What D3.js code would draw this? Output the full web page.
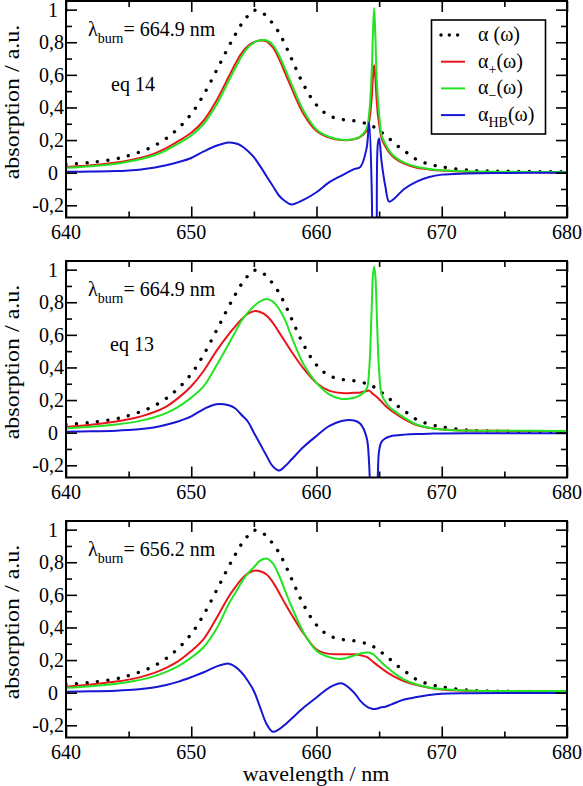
<!DOCTYPE html>
<html><head><meta charset="utf-8">
<script src="https://cdn.jsdelivr.net/npm/d3@7"></script>
<style>
body{margin:0;background:#fff}
svg{display:block}
svg text{font-family:"Liberation Serif","Tinos","Times New Roman",serif;fill:#000}
</style></head>
<body><svg id="c" width="583" height="786"></svg>
<script>
// ---------- data ----------
const wavelength = [640,642,644,645,646,647,648,649,650,651,652,653,653.5,654,654.5,655,655.5,656,656.5,657,657.5,658,659,660,661,662,663,663.5,664,664.2,664.4,664.5,664.6,664.7,664.8,664.9,665,665.2,665.5,665.8,666.2,667,668,669,670,672,675,680];

const alphaTotal = [0.05,0.063,0.085,0.105,0.13,0.163,0.21,0.275,0.36,0.48,0.625,0.775,0.845,0.91,0.96,0.995,0.99,0.96,0.915,0.86,0.785,0.70,0.535,0.415,0.35,0.327,0.318,0.312,0.30,0.295,0.29,0.285,0.28,0.276,0.271,0.265,0.26,0.247,0.228,0.21,0.18,0.135,0.08,0.052,0.036,0.016,0.009,0.005];

// panel 1: burn 664.9 nm, eq 14
const plus14  = [0.035,0.045,0.062,0.075,0.092,0.115,0.15,0.195,0.245,0.32,0.44,0.59,0.665,0.73,0.775,0.80,0.81,0.805,0.77,0.70,0.61,0.52,0.355,0.255,0.215,0.20,0.205,0.22,0.255,0.31,0.45,0.58,0.66,0.58,0.45,0.355,0.30,0.21,0.16,0.125,0.092,0.055,0.03,0.02,0.013,0.006,0.003,0.002];
const minus14 = [0.03,0.04,0.055,0.068,0.084,0.105,0.137,0.18,0.228,0.30,0.415,0.565,0.64,0.71,0.765,0.798,0.812,0.812,0.785,0.72,0.635,0.545,0.375,0.265,0.22,0.202,0.207,0.222,0.27,0.36,0.60,0.84,1.01,0.84,0.58,0.45,0.36,0.23,0.175,0.135,0.10,0.062,0.036,0.023,0.015,0.008,0.005,0.004];
const hb14    = [0.005,0.007,0.01,0.014,0.02,0.03,0.045,0.065,0.09,0.13,0.165,0.185,0.18,0.165,0.135,0.095,0.04,-0.02,-0.08,-0.14,-0.175,-0.195,-0.165,-0.12,-0.06,-0.018,0.022,0.035,0.15,0.31,-0.07,-0.8,-1.2,-0.8,-0.4,0.18,0.21,0.065,-0.085,-0.178,-0.16,-0.10,-0.055,-0.027,-0.012,-0.005,-0.002,0];

// panel 2: burn 664.9 nm, eq 13
const plus13  = [0.035,0.048,0.068,0.082,0.10,0.125,0.16,0.215,0.285,0.38,0.50,0.605,0.65,0.695,0.728,0.745,0.74,0.718,0.675,0.617,0.558,0.498,0.39,0.305,0.258,0.243,0.245,0.247,0.255,0.258,0.245,0.238,0.232,0.226,0.22,0.213,0.205,0.19,0.165,0.145,0.122,0.083,0.046,0.03,0.02,0.013,0.011,0.01];
const minus13 = [0.027,0.036,0.05,0.06,0.074,0.093,0.12,0.16,0.215,0.285,0.41,0.545,0.615,0.685,0.735,0.775,0.805,0.82,0.805,0.76,0.69,0.59,0.415,0.305,0.235,0.207,0.214,0.23,0.268,0.38,0.75,0.96,1.02,0.96,0.76,0.53,0.38,0.235,0.19,0.16,0.135,0.092,0.05,0.03,0.02,0.013,0.012,0.01];
const hb13    = [0.006,0.008,0.012,0.016,0.022,0.032,0.048,0.07,0.10,0.145,0.175,0.168,0.15,0.11,0.07,0.0,-0.07,-0.14,-0.205,-0.232,-0.205,-0.165,-0.085,-0.02,0.04,0.072,0.075,0.055,-0.03,-0.19,-0.7,-1,-1.1,-1,-0.8,-0.25,-0.11,-0.055,-0.035,-0.025,-0.018,-0.012,-0.008,-0.006,-0.005,-0.004,-0.003,-0.003];

// panel 3: burn 656.2 nm
const plus656  = [0.037,0.05,0.068,0.08,0.097,0.12,0.152,0.195,0.255,0.33,0.455,0.59,0.645,0.695,0.73,0.748,0.745,0.726,0.68,0.615,0.545,0.48,0.36,0.265,0.238,0.236,0.235,0.23,0.22,0.21,0.197,0.19,0.184,0.178,0.172,0.166,0.16,0.148,0.132,0.117,0.098,0.07,0.047,0.03,0.02,0.012,0.01,0.01];
const minus656 = [0.03,0.04,0.055,0.066,0.08,0.1,0.128,0.165,0.215,0.28,0.39,0.545,0.61,0.675,0.73,0.77,0.81,0.823,0.795,0.72,0.625,0.53,0.365,0.257,0.218,0.207,0.228,0.24,0.247,0.246,0.24,0.236,0.231,0.224,0.216,0.208,0.2,0.185,0.163,0.145,0.12,0.08,0.05,0.032,0.022,0.013,0.01,0.01];
const hb656    = [0.006,0.008,0.012,0.016,0.022,0.032,0.047,0.068,0.095,0.125,0.16,0.178,0.16,0.125,0.075,0.01,-0.09,-0.19,-0.24,-0.225,-0.195,-0.16,-0.09,-0.03,0.03,0.058,0.0,-0.05,-0.085,-0.093,-0.098,-0.1,-0.1,-0.1,-0.099,-0.097,-0.094,-0.09,-0.086,-0.078,-0.065,-0.042,-0.027,-0.014,-0.006,-0.003,-0.002,-0.002];

const xMajor = [640,650,660,670,680];
const xMinor = [645,655,665,675];
const yMajor = [-0.2,0,0.2,0.4,0.6,0.8,1];
const yMinor = [-0.1,0.1,0.3,0.5,0.7,0.9];
const yTickLabels = ["-0,2","0","0,2","0,4","0,6","0,8","1"];
const burnLabels = ["664.9","664.9","656.2"];
const eqLabels = ["eq 14","eq 13",null];

// ---------- layout ----------
const FONT = "'Liberation Serif', Tinos, 'Times New Roman', serif";
const svg = d3.select("#c");
const left = 66, right = 567, ph = 216.5;
const panelTops = [1, 261, 521];
const col = {plus:"#e8161c", minus:"#22e422", hb:"#1616d4"};
const x = d3.scaleLinear().domain([640,680]).range([left,right]);

const panels = [
  {plus:plus14, minus:minus14, hb:hb14},
  {plus:plus13, minus:minus13, hb:hb13},
  {plus:plus656, minus:minus656, hb:hb656}
];

function txt(sel){ return sel.append("text").style("font-family",FONT); }

panels.forEach((p,i)=>{
  const top = panelTops[i];
  const y = d3.scaleLinear().domain([-0.275,1.053]).range([top+ph, top]);
  const g = svg.append("g");
  const cid = "clip"+i;
  svg.append("clipPath").attr("id",cid).append("rect")
     .attr("x",left).attr("y",top).attr("width",right-left).attr("height",ph);
  const gen = d3.line().x((d,j)=>x(wavelength[j])).y(d=>y(d)).curve(d3.curveCatmullRom.alpha(0.5));
  const cg = g.append("g").attr("clip-path",`url(#${cid})`);
  cg.append("path").attr("d",gen(alphaTotal)).attr("fill","none").attr("stroke","#000")
    .attr("stroke-width",3.4).attr("stroke-linecap","round").attr("stroke-dasharray","0.01 10.5");
  cg.append("path").attr("d",gen(p.plus)).attr("fill","none").attr("stroke",col.plus).attr("stroke-width",2);
  cg.append("path").attr("d",gen(p.minus)).attr("fill","none").attr("stroke",col.minus).attr("stroke-width",2);
  cg.append("path").attr("d",gen(p.hb)).attr("fill","none").attr("stroke",col.hb).attr("stroke-width",2);

  // ticks (inward, all sides)
  const ax = (a, t)=>{ const s=g.append("g").attr("transform",t).call(a); s.select(".domain").remove(); s.selectAll("line").attr("stroke","#000").attr("stroke-width",1.6); s.selectAll("text").remove(); };
  ax(d3.axisBottom(x).tickValues(xMajor).tickSize(-11), `translate(0,${top+ph})`);
  ax(d3.axisBottom(x).tickValues(xMinor).tickSize(-6), `translate(0,${top+ph})`);
  ax(d3.axisTop(x).tickValues(xMajor).tickSize(-11), `translate(0,${top})`);
  ax(d3.axisTop(x).tickValues(xMinor).tickSize(-6), `translate(0,${top})`);
  ax(d3.axisLeft(y).tickValues(yMajor).tickSize(-11), `translate(${left},0)`);
  ax(d3.axisLeft(y).tickValues(yMinor).tickSize(-6), `translate(${left},0)`);
  ax(d3.axisRight(y).tickValues(yMajor).tickSize(-11), `translate(${right},0)`);
  ax(d3.axisRight(y).tickValues(yMinor).tickSize(-6), `translate(${right},0)`);

  g.append("rect").attr("x",left).attr("y",top).attr("width",right-left).attr("height",ph)
   .attr("fill","none").attr("stroke","#000").attr("stroke-width",2);

  // tick labels
  g.selectAll(".xl").data(xMajor).enter().append("text").style("font-family",FONT)
   .attr("x",d=>x(d)).attr("y",top+ph+21).attr("text-anchor","middle")
   .style("font-size","20px").text(d=>d);
  g.selectAll(".yl").data(yMajor).enter().append("text").style("font-family",FONT)
   .attr("x",(d,j)=> yTickLabels[j].includes(",") ? 64 : 58)
   .attr("y",d=>y(d)+7).attr("text-anchor","end")
   .style("font-size","20px").text((d,j)=>yTickLabels[j]);

  // y axis title
  txt(g).attr("transform",`translate(18.5,${top+101}) rotate(-90) scale(1,0.88)`)
   .attr("text-anchor","middle").style("font-size","24px").text("absorption / a.u.");

  // annotations
  const t = txt(g).attr("x",88).attr("y",top+34.5).style("font-size","20px");
  t.append("tspan").text("λ");
  t.append("tspan").attr("dy",7).style("font-size","14px").text("burn");
  t.append("tspan").attr("dy",-7).text("= "+burnLabels[i]+" nm");
  if(eqLabels[i]){
    txt(g).attr("x",i===0?111:110).attr("y",top+89.5).style("font-size","20px").text(eqLabels[i]);
  }

  if(i===0){
    const lg = g.append("g");
    lg.append("rect").attr("x",431.5).attr("y",20).attr("width",114).attr("height",114)
      .attr("fill","#fff").attr("stroke","#000").attr("stroke-width",1.6);
    const entries = [
      {main:"α", sub:null, rest:" (ω)", dash:true, color:"#000"},
      {main:"α", sub:"+", rest:"(ω)", color:col.plus},
      {main:"α", sub:"−", rest:"(ω)", color:col.minus},
      {main:"α", sub:"HB", rest:"(ω)", color:col.hb}
    ];
    entries.forEach((e,k)=>{
      const yy = 35 + k*26.7;
      const ln = lg.append("line").attr("x1",441).attr("x2",465).attr("y1",yy).attr("y2",yy)
        .attr("stroke",e.color);
      if(e.dash){ ln.attr("stroke-width",3.4).attr("stroke-linecap","round").attr("stroke-dasharray","0.01 8.3"); }
      else ln.attr("stroke-width",2);
      const tx = txt(lg).attr("x",478).attr("y",yy+6).style("font-size","20px");
      tx.append("tspan").text(e.main);
      if(e.sub){
        tx.append("tspan").attr("dy",6).style("font-size","14px").text(e.sub);
        tx.append("tspan").attr("dy",-6).text(e.rest);
      } else tx.append("tspan").text(e.rest);
    });
  }
});

// x axis title
txt(svg).attr("x",316).attr("y",781).attr("text-anchor","middle")
   .style("font-size","22px").text("wavelength / nm");
</script>
</body></html>
